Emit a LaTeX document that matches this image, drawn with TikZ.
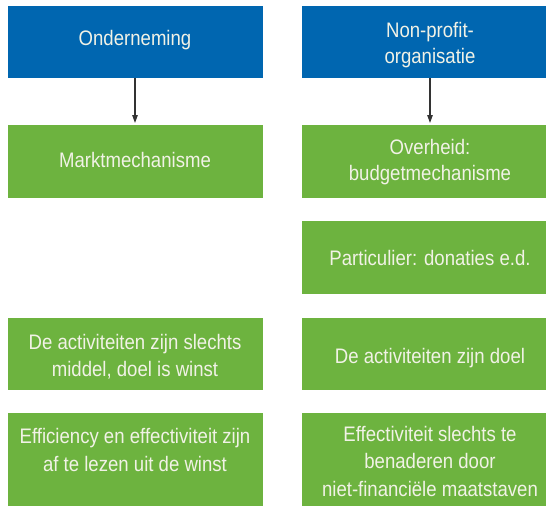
\documentclass[tikz,border=0pt]{standalone}
\usepackage{fontspec}
\setmainfont{Liberation Sans}[FakeStretch=0.885]
\usetikzlibrary{arrows.meta}
\definecolor{bblue}{HTML}{0066B0}
\definecolor{bgreen}{HTML}{6DB33F}
\definecolor{btext}{HTML}{F1F2E6}
\definecolor{arrowgray}{HTML}{333333}
\begin{document}
\begin{tikzpicture}[x=1pt,y=-1pt,
  boxbase/.style={draw=none,inner sep=0pt,outer sep=0pt},
  bluebox/.style={boxbase,fill=bblue},
  greenbox/.style={boxbase,fill=bgreen},
  lw/.style={minimum width=255pt},
  rw/.style={minimum width=244pt},
  txt/.style={text=btext,inner sep=0pt,anchor=base,font=\fontsize{21}{26}\selectfont},
  arr/.style={draw=arrowgray,line width=1.1pt,-{Triangle[length=8pt,width=5.5pt]},shorten >=2pt}
]
\useasboundingbox (0,0) rectangle (546,506);
% left column
\node[bluebox,lw,minimum height=72pt] (L1) at (135.5,42) {};
\node[greenbox,lw,minimum height=73pt] (L2) at (135.5,161.5) {};
\node[greenbox,lw,minimum height=72pt] (L4) at (135.5,354) {};
\node[greenbox,lw,minimum height=93pt] (L5) at (135.5,459.5) {};
% right column
\node[bluebox,rw,minimum height=72pt] (R1) at (424,42) {};
\node[greenbox,rw,minimum height=73pt] (R2) at (424,161.5) {};
\node[greenbox,rw,minimum height=73pt] (R3) at (424,257.5) {};
\node[greenbox,rw,minimum height=72pt] (R4) at (424,354) {};
\node[greenbox,rw,minimum height=93pt] (R5) at (424,459.5) {};
% texts left
\node[txt] (tL1) at (135,45) {Onderneming};
\node[txt] (tL2) at (135,167) {Marktmechanisme};
\node[txt] (tL4a) at (135,349) {De activiteiten zijn slechts};
\node[txt] (tL4b) at (135,376) {middel, doel is winst};
\node[txt] (tL5a) at (135,443) {Efficiency en effectiviteit zijn};
\node[txt] (tL5b) at (135,471) {af te lezen uit de winst};
% texts right
\node[txt] (tR1a) at (430,37) {Non-profit-};
\node[txt] (tR1b) at (430,63) {organisatie};
\node[txt] (tR2a) at (430,154) {Overheid:};
\node[txt] (tR2b) at (430,180) {budgetmechanisme};
\node[txt] (tR3) at (430,265) {Particulier: donaties e.d.};
\node[txt] (tR4) at (430,363) {De activiteiten zijn doel};
\node[txt] (tR5a) at (430,441) {Effectiviteit slechts te};
\node[txt] (tR5b) at (430,468) {benaderen door};
\node[txt] (tR5c) at (430,496) {niet-financiële maatstaven};
% arrows
\draw[arr] ([xshift=-0.5pt]L1.south) -- ([xshift=-0.5pt]L2.north);
\draw[arr] ([xshift=6pt]R1.south) -- ([xshift=6pt]R2.north);
\end{tikzpicture}
\end{document}
